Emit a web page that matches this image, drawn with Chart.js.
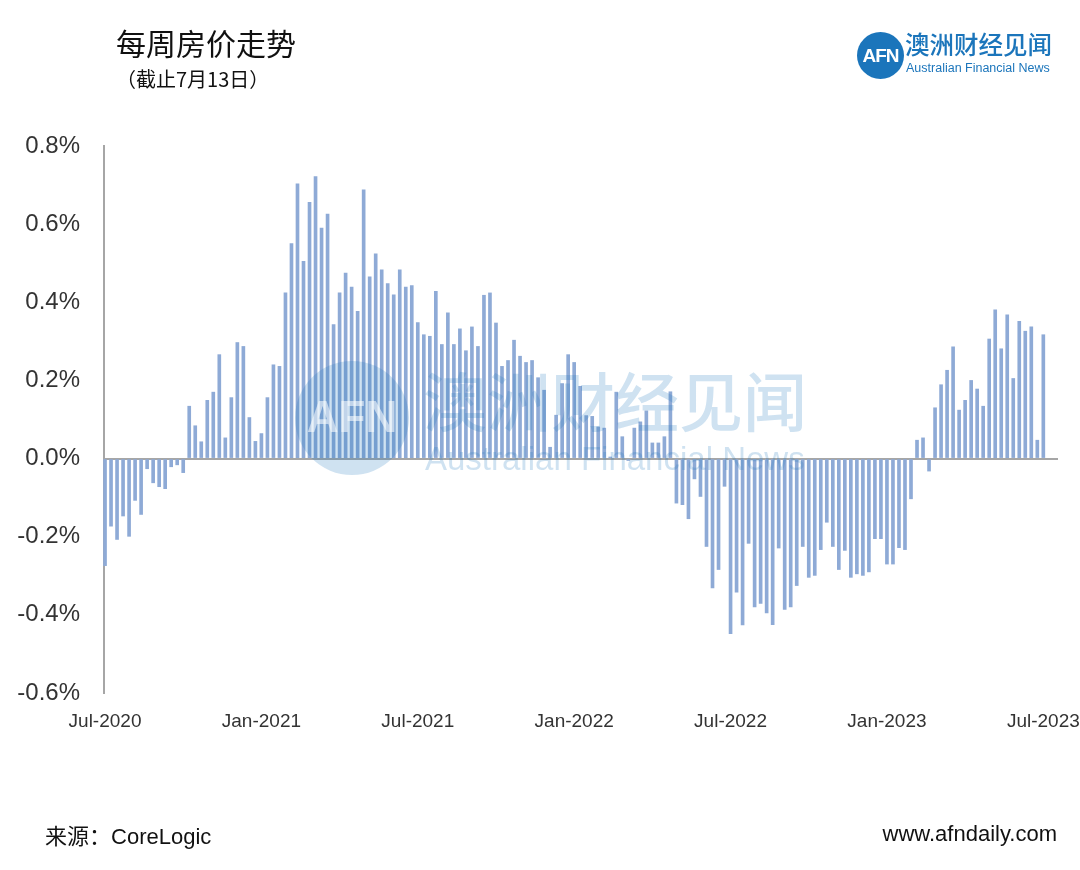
<!DOCTYPE html>
<html>
<head>
<meta charset="utf-8">
<script src="https://cdn.jsdelivr.net/npm/chart.js@4.4.1/dist/chart.umd.min.js"></script>
<style>
  html, body { margin: 0; padding: 0; background: #fff; }
  #wrap { position: relative; width: 1080px; height: 870px; overflow: hidden; }
  #chart { position: absolute; left: 0; top: 0; }
  .txt { position: absolute; white-space: nowrap; color: #111; }
  #title { left: 116px; top: 22px; font: 30px "Noto Sans CJK SC", sans-serif; line-height: 40px; }
  #sub { left: 116px; top: 64px; font: 20px "Noto Sans CJK SC", sans-serif; line-height: 30px; }
  #src { left: 45px; top: 819px; font: 22px "Liberation Sans", Arial, sans-serif; line-height: 30px; }
  #src span { font-family: "Noto Sans CJK SC", sans-serif; }
  #site { right: 23px; top: 819px; font: 22px "Liberation Sans", Arial, sans-serif; line-height: 30px; }
  #logo { position: absolute; left: 857px; top: 32px; width: 200px; height: 48px; }
  #logo .dot { position: absolute; left: 0; top: 0; width: 47px; height: 47px; border-radius: 50%; background: #1b75bb;
    color: #fff; font: bold 19px "Liberation Sans Narrow", "Liberation Sans", Arial, sans-serif; line-height: 47px; text-align: center; letter-spacing: -1px; }
  #logo .cn { position: absolute; left: 48px; top: -5px; color: #1b75bb; font: 500 24.5px "Noto Sans CJK SC", sans-serif; line-height: 34px; }
  #logo .en { position: absolute; left: 49px; top: 29px; color: #1b75bb; font: 12.5px "Liberation Sans", Arial, sans-serif; line-height: 14px; }
</style>
</head>
<body>
<div id="wrap">
  <canvas id="chart" width="1080" height="870"></canvas>
  <div class="txt" id="title">每周房价走势</div>
  <div class="txt" id="sub">（截止7月13日）</div>
  <div id="logo">
    <div class="dot">AFN</div>
    <div class="cn">澳洲财经见闻</div>
    <div class="en">Australian Financial News</div>
  </div>
  <div class="txt" id="src"><span>来源：</span>CoreLogic</div>
  <div class="txt" id="site">www.afndaily.com</div>
</div>
<script>
// weekly change in home values (%), week ending 16 Jul 2020 .. 13 Jul 2023
const weeklyChange = [
  -0.274, -0.173, -0.207, -0.147, -0.199, -0.107, -0.143, -0.026, -0.062, -0.072,
  -0.077, -0.021, -0.016, -0.036, 0.134, 0.084, 0.043, 0.149, 0.170, 0.266,
  0.053, 0.156, 0.297, 0.287, 0.105, 0.044, 0.064, 0.156, 0.240, 0.236,
  0.424, 0.550, 0.703, 0.505, 0.656, 0.722, 0.590, 0.626, 0.343, 0.424,
  0.475, 0.439, 0.377, 0.688, 0.465, 0.524, 0.483, 0.448, 0.419, 0.483,
  0.439, 0.443, 0.348, 0.317, 0.313, 0.428, 0.292, 0.373, 0.292, 0.332,
  0.276, 0.337, 0.287, 0.418, 0.424, 0.347, 0.236, 0.251, 0.303, 0.262,
  0.246, 0.251, 0.207, 0.175, 0.029, 0.111, 0.192, 0.266, 0.246, 0.185,
  0.110, 0.108, 0.081, 0.078, 0.004, 0.170, 0.056, -0.005, 0.078, 0.094,
  0.122, 0.040, 0.040, 0.056, 0.171, -0.114, -0.118, -0.154, -0.052, -0.097,
  -0.225, -0.331, -0.284, -0.071, -0.448, -0.342, -0.426, -0.217, -0.380, -0.371,
  -0.395, -0.425, -0.229, -0.386, -0.380, -0.325, -0.225, -0.304, -0.299, -0.233,
  -0.163, -0.225, -0.284, -0.235, -0.304, -0.295, -0.299, -0.290, -0.205, -0.205,
  -0.270, -0.270, -0.228, -0.233, -0.103, 0.047, 0.053, -0.032, 0.130, 0.189,
  0.226, 0.286, 0.124, 0.149, 0.200, 0.178, 0.134, 0.306, 0.381, 0.281,
  0.368, 0.205, 0.351, 0.326, 0.337, 0.047, 0.317
];

// x-axis labels and the week they sit on
const tickLabels = ['Jul-2020', 'Jan-2021', 'Jul-2021', 'Jan-2022', 'Jul-2022', 'Jan-2023', 'Jul-2023'];
const tickWeeks = [0, 26, 52, 78, 104, 130, 156];

const yTicks = [-0.6, -0.4, -0.2, 0, 0.2, 0.4, 0.6, 0.8];

const points = weeklyChange.map((v, i) => ({ x: i, y: v }));

// faint brand watermark over the bars
const watermark = {
  id: 'watermark',
  afterDatasetsDraw(chart) {
    const c = chart.ctx;
    c.save();
    c.globalAlpha = 0.21;
    c.fillStyle = '#1b75bb';
    c.beginPath();
    c.arc(352, 418, 57, 0, Math.PI * 2);
    c.fill();
    c.font = '500 64px "Noto Sans CJK SC", sans-serif';
    c.textBaseline = 'middle';
    c.fillText('澳洲财经见闻', 423, 402);
    c.font = '33px "Liberation Sans", Arial, sans-serif';
    c.fillText('Australian Financial News', 425, 461);
    c.globalAlpha = 0.55;
    c.fillStyle = '#fff';
    c.font = 'bold 44px "Liberation Sans Narrow", "Liberation Sans", Arial, sans-serif';
    c.textAlign = 'center';
    c.fillText('AFN', 352, 420);
    c.restore();
  }
};

new Chart(document.getElementById('chart'), {
  type: 'bar',
  data: {
    datasets: [{
      data: points,
      backgroundColor: '#8eaad6',
      barThickness: 3,
      clip: false
    }]
  },
  options: {
    responsive: false,
    animation: false,
    layout: { padding: { left: 10, right: 22, top: 146, bottom: 117 } },
    plugins: { legend: { display: false }, tooltip: { enabled: false } },
    scales: {
      x: {
        type: 'linear',
        min: -0.17,
        max: 158.44,
        offset: false,
        afterBuildTicks: s => { s.ticks = tickWeeks.map(v => ({ value: v })); },
        afterFit: s => { s.height = 60; s.paddingLeft = 0; s.paddingRight = 0; },
        ticks: {
          autoSkip: false,
          maxRotation: 0,
          padding: 17,
          color: '#333',
          font: { family: '"Liberation Sans Narrow", "Arial Narrow", "Liberation Sans", sans-serif', size: 19 },
          callback: v => tickLabels[tickWeeks.indexOf(v)] || ''
        },
        grid: { display: false, drawTicks: false },
        border: { display: false }
      },
      y: {
        min: -0.6,
        max: 0.8,
        afterBuildTicks: s => { s.ticks = yTicks.map(v => ({ value: v })); },
        afterFit: s => { s.width = 94; s.paddingTop = 0; s.paddingBottom = 0; },
        ticks: {
          padding: 24,
          color: '#333',
          font: { family: '"Liberation Sans", Arial, sans-serif', size: 24 },
          callback: v => v.toFixed(1) + '%'
        },
        grid: {
          drawTicks: false,
          lineWidth: 2,
          color: c => (c.tick && c.tick.value === 0 ? '#a6a6a6' : 'rgba(0,0,0,0)')
        },
        border: { display: true, color: '#a6a6a6', width: 2 }
      }
    }
  },
  plugins: [watermark]
});
</script>
</body>
</html>
